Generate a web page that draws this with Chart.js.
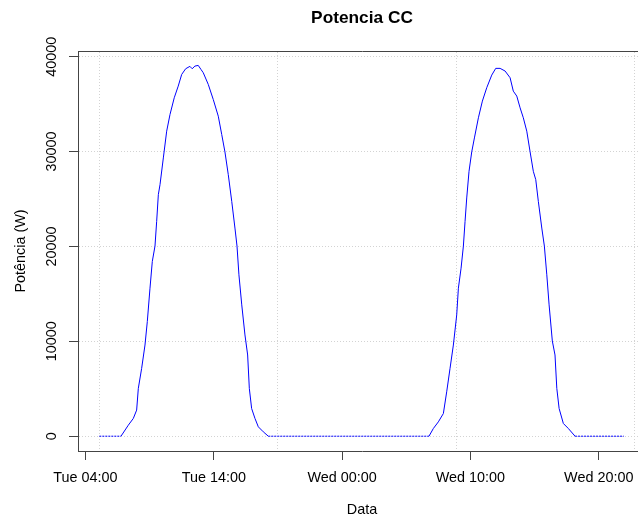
<!DOCTYPE html>
<html>
<head>
<meta charset="utf-8">
<script src="https://cdn.jsdelivr.net/npm/chart.js@4"></script>
<style>
  html, body { margin: 0; padding: 0; overflow: hidden; background: #fff; }
  #wrap { width: 660px; height: 520px; }
</style>
</head>
<body>
<div id="wrap"><canvas id="myChart"></canvas></div>
<script>
// horas contadas a partir de Tue 00:00
const horas = [
  5.08, 6.77, 7.34, 7.73, 7.99, 8.12, 8.38, 8.64, 8.82, 9.03, 9.21, 9.42,
  9.55, 9.68, 9.81, 10.07, 10.33, 10.59, 10.92, 11.23, 11.50, 11.81, 12.14,
  12.32, 12.53, 12.79, 13.00, 13.18, 13.57, 13.96, 14.35, 14.62, 14.87, 15.13,
  15.40, 15.65, 15.81, 15.96, 16.18, 16.43, 16.64, 16.77, 16.95, 17.21, 17.47,
  17.86, 18.25,
  30.77, 31.11, 31.50, 31.89, 32.15, 32.41, 32.67, 32.93, 33.06, 33.27, 33.45,
  33.58, 33.71, 33.89, 34.10, 34.31, 34.62, 34.93, 35.27, 35.66, 35.97, 36.31,
  36.70, 37.09, 37.34, 37.61, 37.87, 38.12, 38.39, 38.65, 38.90, 39.09, 39.29,
  39.56, 39.76, 39.95, 40.13, 40.38, 40.59, 40.73, 40.91, 41.24, 41.63, 42.15,
  45.95
];
const potencia = [
  0, 0, 1160, 1870, 2750, 5040, 7150, 9610, 12080, 15600, 18420, 20040,
  22640, 25460, 26510, 29330, 32150, 33910, 35670, 36900, 38130, 38730, 38980,
  38730, 39010, 39080, 38660, 38310, 37080, 35490, 33730, 31800, 29960, 27570,
  24750, 21940, 20040, 17010, 13840, 10670, 8560, 5040, 2920, 1870, 990,
  460, 0,
  0, 810, 1510, 2390, 4680, 7150, 9610, 12780, 15600, 17710, 20040,
  22640, 25110, 27920, 29960, 31440, 33560, 35320, 36730, 38060, 38770, 38770,
  38490, 37780, 36370, 35850, 34610, 33560, 32150, 29960, 27920, 27040, 24750,
  21940, 20040, 17010, 13840, 10040, 8560, 5040, 2920, 1340, 810, 0,
  0
];
const xTickHoras = [4, 14, 24, 34, 44];
const xTickLabels = ['Tue 04:00', 'Tue 14:00', 'Wed 00:00', 'Wed 10:00', 'Wed 20:00'];
const gridHoras = [5.11, 19.0, 32.89, 46.78];
const yTicks = [0, 10000, 20000, 30000, 40000];

const xMin = 3.42, xMax = 47.68;
const yMin = -1560, yMax = 40600;

const fonte = { family: '"Liberation Sans", Arial, sans-serif', size: 14.4 };
const corEixo = '#444';

const tituloPlugin = {
  id: 'titulo',
  afterDraw(chart) {
    const { ctx, chartArea } = chart;
    ctx.save();
    ctx.font = 'bold 17.3px "Liberation Sans", Arial, sans-serif';
    ctx.fillStyle = '#000';
    ctx.textAlign = 'center';
    ctx.textBaseline = 'middle';
    ctx.fillText('Potencia CC', (chartArea.left + chartArea.right) / 2, 18.3);
    ctx.restore();
  }
};

const ctx = document.getElementById('myChart');
new Chart(ctx, {
  type: 'line',
  data: {
    datasets: [{
      data: horas.map((h, i) => ({ x: h, y: potencia[i] })),
      borderColor: '#0000ff',
      borderWidth: 1,
      pointRadius: 0,
      tension: 0,
      segment: {
        borderDash: c => (c.p0.parsed.y === 0 && c.p1.parsed.y === 0) ? [2, 1] : undefined
      }
    }]
  },
  options: {
    responsive: true,
    maintainAspectRatio: false,
    animation: false,
    layout: { padding: { top: 51, left: 0, right: 14, bottom: 0 } },
    plugins: { legend: { display: false }, tooltip: { enabled: false } },
    scales: {
      x: {
        type: 'linear', position: 'bottom', min: xMin, max: xMax,
        afterBuildTicks: s => { s.ticks = xTickHoras.map(v => ({ value: v })); },
        afterFit: s => { s.height = 69; },
        ticks: {
          autoSkip: false, maxRotation: 0, padding: 9, color: '#000', font: fonte,
          callback: v => xTickLabels[xTickHoras.indexOf(v)]
        },
        grid: { drawOnChartArea: false, drawTicks: true, tickLength: 9, tickColor: corEixo, tickWidth: 1 },
        border: { display: true, color: corEixo, width: 1 },
        title: { display: true, text: 'Data', color: '#000', font: fonte, padding: { top: 0, bottom: 1 } }
      },
      xg: {
        type: 'linear', position: 'top', min: xMin, max: xMax,
        afterBuildTicks: s => { s.ticks = gridHoras.map(v => ({ value: v })); },
        afterFit: s => { s.height = 0; },
        ticks: { display: false },
        grid: { drawOnChartArea: true, drawTicks: false, color: '#d3d3d3', lineWidth: 1 },
        border: { display: true, color: corEixo, width: 1, dash: [1, 2] }
      },
      y: {
        type: 'linear', position: 'left', min: yMin, max: yMax,
        afterBuildTicks: s => { s.ticks = yTicks.map(v => ({ value: v })); },
        afterFit: s => { s.width = 78; },
        ticks: {
          minRotation: 90, maxRotation: 90, crossAlign: 'center', padding: -3,
          color: '#000', font: fonte, callback: v => String(v)
        },
        grid: { drawOnChartArea: true, drawTicks: true, tickLength: 9, tickColor: corEixo, tickWidth: 1, color: '#d3d3d3', lineWidth: 1 },
        border: { display: true, color: corEixo, width: 1, dash: [1, 2] },
        title: { display: true, text: 'Potência (W)', color: '#000', font: fonte, padding: { top: 12, bottom: 0 } }
      }
    }
  },
  plugins: [tituloPlugin]
});
</script>
</body>
</html>
